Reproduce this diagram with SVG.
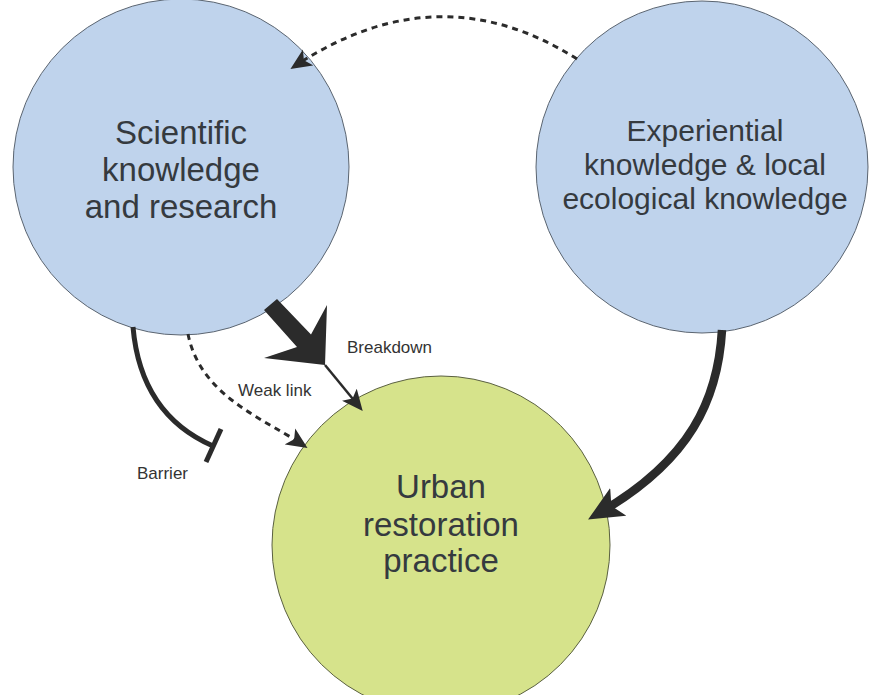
<svg xmlns="http://www.w3.org/2000/svg" width="869" height="695" viewBox="0 0 869 695">
  <style>
    .blue { fill: #bfd3ec; stroke: #5a6470; stroke-width: 1; }
    .green { fill: #d6e38b; stroke: #5a6040; stroke-width: 1; }
    .big { font-family: "Liberation Sans", Arial, sans-serif; fill: #353a3f; text-anchor: middle; }
    .lbl { font-family: "Liberation Sans", Arial, sans-serif; font-size: 17px; fill: #333333; }
    .solid { fill: none; stroke: #2b2b2b; }
    .dash { fill: none; stroke: #2b2b2b; stroke-width: 3; stroke-dasharray: 6 5; }
  </style>
  <defs>
    <marker id="tip" markerUnits="userSpaceOnUse" viewBox="0 0 22 20" markerWidth="22" markerHeight="20" refX="12" refY="10" orient="auto">
      <path d="M0,0.5 L21,10 L0,19.5 L5,10 z" fill="#2b2b2b"/>
    </marker>
    <marker id="tip-lg" markerUnits="userSpaceOnUse" viewBox="0 0 36 32" markerWidth="36" markerHeight="32" refX="20" refY="16" orient="auto">
      <path d="M0,0 L35,16 L0,32 L8,16 z" fill="#2b2b2b"/>
    </marker>
  </defs>

  <rect width="869" height="695" fill="#ffffff"/>

  <g id="scientific">
    <circle class="blue" cx="181" cy="167" r="168"/>
    <text class="big" font-size="33" x="181" y="144">Scientific</text>
    <text class="big" font-size="33" x="181" y="181">knowledge</text>
    <text class="big" font-size="33" x="181" y="218">and research</text>
  </g>

  <g id="experiential">
    <circle class="blue" cx="702" cy="167" r="166"/>
    <text class="big" font-size="30" x="705" y="141">Experiential</text>
    <text class="big" font-size="30" x="705" y="175">knowledge &amp; local</text>
    <text class="big" font-size="30" x="705" y="209">ecological knowledge</text>
  </g>

  <g id="practice">
    <circle class="green" cx="441" cy="545" r="169"/>
    <text class="big" font-size="33" x="441" y="498">Urban</text>
    <text class="big" font-size="33" x="441" y="536">restoration</text>
    <text class="big" font-size="33" x="441" y="572">practice</text>
  </g>

  <g id="connectors">
    <!-- experiential to scientific: weak feedback -->
    <path class="dash" d="M577,59 Q440,-28 298,64" marker-end="url(#tip)"/>
    <!-- scientific to practice: breakdown -->
    <polygon points="277,299 311,334.5 327,305 325,365 264,358 297,347 264,310" fill="#2b2b2b"/>
    <path class="solid" stroke-width="2.5" d="M325,365 L357,404" marker-end="url(#tip)"/>
    <!-- scientific to practice: weak link -->
    <path class="dash" d="M188,334 C200,395 262,418 300,443" marker-end="url(#tip)"/>
    <!-- scientific to practice: barrier -->
    <path class="solid" stroke-width="5" d="M133,327 C138,385 165,425 213,446"/>
    <line class="solid" stroke-width="5" x1="221" y1="429" x2="206" y2="462"/>
    <!-- experiential to practice -->
    <path class="solid" stroke-width="8.5" d="M722,330 C718,400 690,460 601,512" marker-end="url(#tip-lg)"/>
  </g>

  <text class="lbl" x="347" y="353">Breakdown</text>
  <text class="lbl" x="238" y="396">Weak link</text>
  <text class="lbl" x="137" y="479">Barrier</text>
</svg>
